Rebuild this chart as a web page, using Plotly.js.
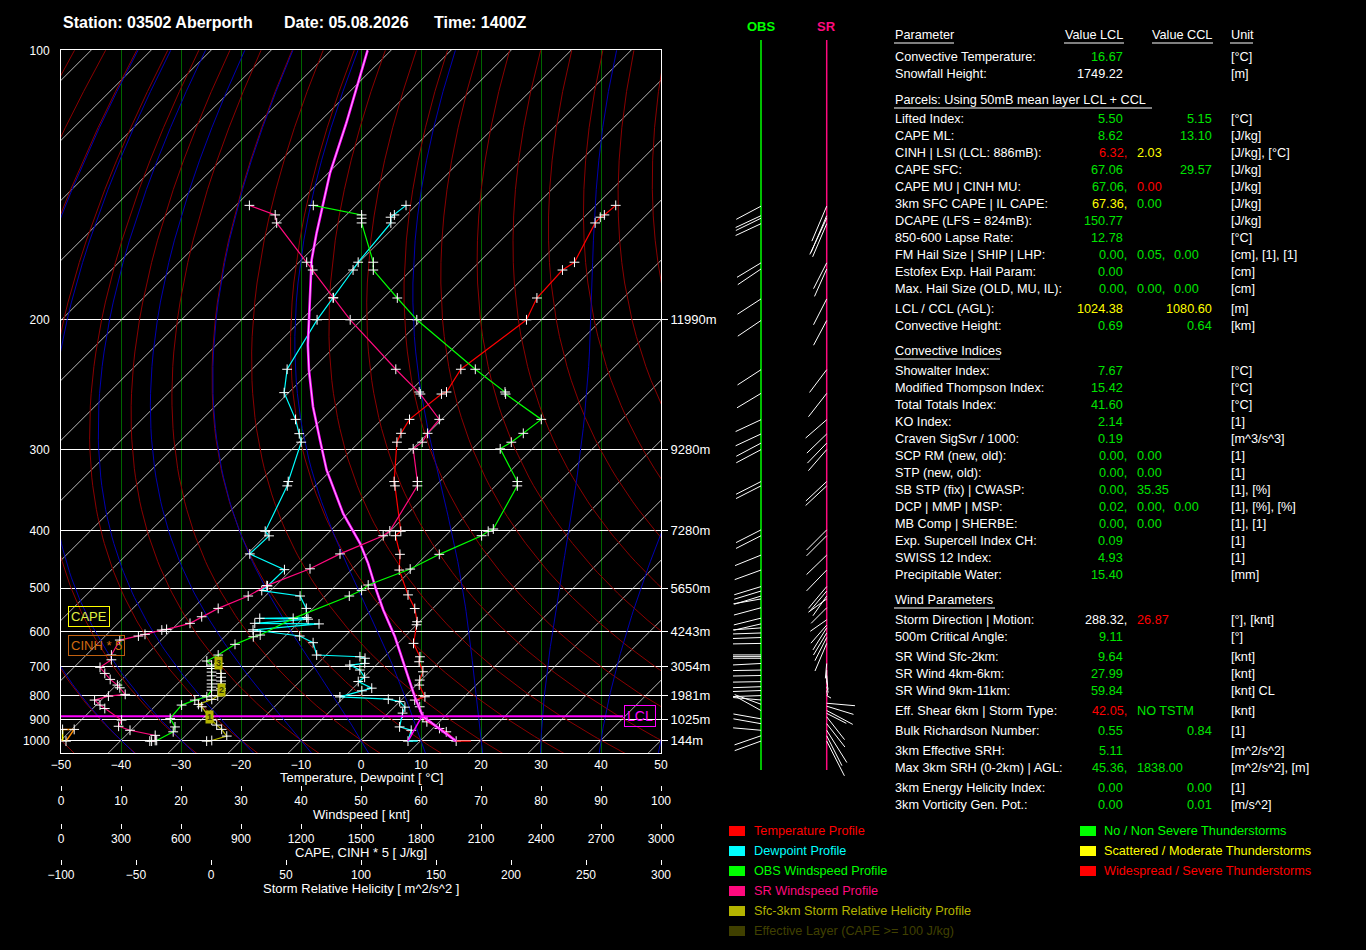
<!DOCTYPE html>
<html><head><meta charset="utf-8">
<script src="https://cdn.plot.ly/plotly-3.0.1.min.js"></script>
<style>html,body{margin:0;padding:0;background:#000;}#chart{width:1366px;height:950px;}</style>
</head><body><div id="chart"></div>
<script>
// ================= DATA =================
const titleParts = ["Station: 03502 Aberporth", "Date: 05.08.2026", "Time: 1400Z"];
const pressureTicks = [100, 200, 300, 400, 500, 600, 700, 800, 900, 1000];
const heightLabels = ["11990m", "9280m", "7280m", "5650m", "4243m", "3054m", "1981m", "1025m", "144m"]; // for 200..1000 hPa
const tempTicks = [-50, -40, -30, -20, -10, 0, 10, 20, 30, 40, 50];
const windTicks = [0, 10, 20, 30, 40, 50, 60, 70, 80, 90, 100];
const capeTicks = [0, 300, 600, 900, 1200, 1500, 1800, 2100, 2400, 2700, 3000];
const srhTicks = [-100, -50, 0, 50, 100, 150, 200, 250, 300];

// Temperature profile [hPa], [°C]
const tempP = [145.9,149.6,150.5,152.8,169.9,173.6,187.8,200,231.9,248.9,250.5,271.7,284.4,292.9,335.1,340.2,401.1,407.8,437.7,465.3,514,543.7,574.7,582.1,630.9,669.4,684.6,716.6,744.6,762.2,805.6,818.5,845.4,888,910.5,941.2,957.5,1004.3];
const tempC = [-46.7,-47.0,-47.3,-47.2,-44.1,-44.8,-44.4,-42.5,-45.2,-43.8,-44.3,-45.4,-44.5,-43.7,-37.6,-36.75,-28.2,-28.35,-24.5,-22.0,-16.4,-13.0,-10.4,-10.0,-7.4,-4.1,-3.4,-1.1,-0.25,0.5,3.4,2.25,4.2,6.4,7.9,11.1,12.8,16.0];
const tempSfcMax = 18.45; // surface tail

// Dewpoint profile
const dewP = [145.9,149.6,150.5,152.8,169.9,173.6,187.7,200,231.9,249.4,271.7,284.7,292.9,335.1,340.2,401.1,408,437,464.6,495.7,505,516.4,543.4,564.8,566.5,568.5,578.6,580,595,611,629,664.3,669.4,674,689.7,695,710.9,734.9,749.7,773.3,783.2,806,815,824.4,847,872,934,950,1004.3];
const dewC = [-81.65,-82.0,-82.25,-81.25,-80.15,-79.7,-78.4,-77.4,-74.15,-70.75,-64.4,-61.4,-59.65,-55.25,-54.7,-50.8,-49.4,-49.6,-41.2,-41.3,-41.5,-34.2,-31.1,-29.5,-37.2,-29.0,-37.2,-26.4,-36.4,-27.6,-24.25,-21.6,-14.1,-13.0,-12.2,-14.4,-11.9,-9.9,-10.25,-6.9,-8.1,-10.75,-2.3,0.0,1.8,2.4,4.2,6.7,7.97];
const dewSfcMax = 9.6;

// Lifted parcel (surface -> LCL -> moist ascent)
const parcelP = [1004.3,886,805.6,768.3,669.4,613,547.1,504,453.3,419.6,375.5,341,321.8,290.7,260.8,232.4,215.4,168.8,157.1,134.3,118.7,100];
const parcelC = [16.0,6.3,1.7,-0.5,-7.2,-11.6,-18.0,-22.5,-28.3,-33.0,-40.8,-46.9,-50.8,-56.9,-63.6,-70.4,-74.75,-88.3,-91.9,-99.7,-105.3,-113.9];
const mixP = [1004.3, 886];
const mixC = [7.97, 6.15];
const lclP = 886;

// OBS windspeed profile [kt]
const obsP = [145.9,149.6,150.9,152.8,169.9,173.6,187.8,200,231.9,248.9,250.5,271.7,284.4,292.9,299.5,335.1,340.2,397.7,401.1,407.8,437.7,463.5,493.9,504.5,516.4,566.5,608.4,613,633.6,664.3,682.4,695,706,717.6,730,744.6,758,769.4,780.6,805.6,818.5,838.5,895.1,934,957.5,1000.8,1004.3];
const obsKt = [42.05,50.1,50.1,50.1,52.05,52.05,56.05,59.3,69.05,74.0,74.1,80.05,77.05,75.05,73.2,76.05,76.05,72.05,71.2,70.1,63.05,58.2,51.2,50.1,48.05,38.7,33.2,32.05,29.0,26.2,24.3,25.1,25.1,25.1,25.1,25.1,25.1,25.1,25.1,24.3,22.3,20.1,18.2,19.0,18.7,15.95,14.8];

// Storm-relative windspeed profile [kt]
const srP = [145.9,149.6,152.8,169.9,173.6,187.7,200,231.9,248.9,250.5,271.7,284.4,292.9,299.5,335.1,340.2,400.6,407.8,437,463,495,516.4,543.4,562.7,578.6,593.7,595.4,606.6,611,621.8,664.3,678.6,702.3,722,742.3,762.2,772,796.4,803,818.5,838.5,852.6,902.7,931,950,975,1001,1004.3];
const srKt = [31.4,35.7,35.95,40.95,41.95,45.4,48.2,55.8,59.7,59.9,63.05,61.1,60.2,58.7,59.4,59.4,54.8,53.7,46.5,41.5,34.3,31.2,26.2,23.45,21.5,17.6,16.8,14.0,12.9,9.8,8.4,8.4,6.5,7.3,8.2,9.4,9.8,10.7,7.9,5.6,6.5,7.3,10.1,9.6,11.5,15.7,15.7,15.1];

// Sfc-3km storm relative helicity profile [m^2/s^2]
const srhP = [1004.3,1001,978.6,945.7,925.5,902.7,888,845.4,835.7,815.8,802.7,780.6,775,758,748,735,722,689.6];
const srhVal = [-2.9,0.5,10.5,7.1,3.8,0.5,-1.3,-6.2,-8.4,0.5,4.5,6.7,6.7,6.7,6.7,6.7,6.7,5.3];
const srhKmP = [888, 780.6, 689.6];
const srhKmVal = [-1.3, 6.7, 5.3];
const srhKmLabel = ["1", "2", "3"];

// CAPE and CINH*5 profiles [J/kg]
const capeP = [1004.3, 946];
const capeVal = [8, 8];
const cinhP = [946, 946, 1004.3];
const cinh5Val = [8, 66, 25];

// Wind sticks: observed wind direction (deg, from) per level
const obsStickP = [146.2,149.9,150.9,153.1,170.2,173.1,188.3,200.4,232.2,250,272,285,293.8,300.3,335.1,340.2,399,407.8,439,465.3,497,506,516.5,522.6,542,566,580,590,603,615,631,664,669,674,690,711,729,750,768,782,801,818,835,861,897,919,950,977,1004];
const obsStickDir = [242,245,244,245,239,236,237,236,237,239,245,245,242,242,243,243,243,243,248,250,253,253,253,260,255,256,257,266,268,268,269,270,270,270,267,269,269,269,268,268,268,275,290,299,280,280,275,251,250];
// Storm-relative sticks: direction (deg, from) and drawn length
const srStickP = [146.2,149.9,150.9,153.1,170.2,173.1,188.3,200.4,232.2,250,272,285,293.8,300.3,335.1,340.2,399,407.8,439,465.3,497,506,516.5,522.6,542,570,583,590,603,615,631,690,711,729,750,768,782,801,831,843,861,873,888,919,950,977,1004];
const srStickDir = [203,203,205,203,207,204,207,208,217,218,229,226,224,221,227,227,225,225,226,224,220,220,215,234,225,235,221,212,211,207,203,185,180,175,170,165,170,120,95,107,118,117,142,142,148,153,153];
const srStickLen = [38,40,40,36,29,30,29,28,28.5,29.6,27.9,27.6,27.8,27.9,28.5,28.8,28.5,28.5,28,29,28.4,27,24,22.6,22,20,24,26,25.7,26,30,15,12,10,8,6,5,5,28.4,28,29.5,22,29,29.6,38,33.5,39];

// Parameter table
const paramNames = ["Convective Temperature:","Snowfall Height:","Lifted Index:","CAPE ML:","CINH | LSI (LCL: 886mB):","CAPE SFC:","CAPE MU | CINH MU:","3km SFC CAPE | IL CAPE:","DCAPE (LFS = 824mB):","850-600 Lapse Rate:","FM Hail Size | SHIP | LHP:","Estofex Exp. Hail Param:","Max. Hail Size (OLD, MU, IL):","LCL / CCL (AGL):","Convective Height:","Showalter Index:","Modified Thompson Index:","Total Totals Index:","KO Index:","Craven SigSvr / 1000:","SCP RM (new, old):","STP (new, old):","SB STP (fix) | CWASP:","DCP | MMP | MSP:","MB Comp | SHERBE:","Exp. Supercell Index CH:","SWISS 12 Index:","Precipitable Water:","Storm Direction | Motion:","500m Critical Angle:","SR Wind Sfc-2km:","SR Wind 4km-6km:","SR Wind 9km-11km:","Eff. Shear 6km | Storm Type:","Bulk Richardson Number:","3km Effective SRH:","Max 3km SRH (0-2km) | AGL:","3km Energy Helicity Index:","3km Vorticity Gen. Pot.:"];
const paramValA = ["16.67","1749.22","5.50","8.62","6.32,","67.06","67.06,","67.36,","150.77","12.78","0.00,","0.00","0.00,","1024.38","0.69","7.67","15.42","41.60","2.14","0.19","0.00,","0.00,","0.00,","0.02,","0.00,","0.09","4.93","15.40","288.32,","9.11","9.64","27.99","59.84","42.05,","0.55","5.11","45.36,","0.00","0.00"];
const paramColA = ["g","w","g","g","r","g","g","y","g","g","g","g","g","y","g","g","g","g","g","g","g","g","g","g","g","g","g","g","w","g","g","g","g","r","g","g","g","g","g"];
const paramValB = ["","","","","2.03","","0.00","0.00","","","0.05,","","0.00,","","","","","","","","0.00","0.00","35.35","0.00,","0.00","","","","26.87","","","","","NO TSTM","","","1838.00","",""];
const paramColB = ["","","","","y","","r","g","","","g","","g","","","","","","","","g","g","g","g","g","","","","r","","","","","g","","","g","",""];
const paramValC = ["","","","","","","","","","","0.00","","0.00","","","","","","","","","","","0.00","","","","","","","","","","","","","","",""];
const paramValCCL = ["","","5.15","13.10","","29.57","","","","","","","","1080.60","0.64","","","","","","","","","","","","","","","","","","","","0.84","","","0.00","0.01"];
const paramColCCL = ["","","g","g","","g","","","","","","","","y","g","","","","","","","","","","","","","","","","","","","","g","","","g","g"];
const paramUnits = ["[°C]","[m]","[°C]","[J/kg]","[J/kg], [°C]","[J/kg]","[J/kg]","[J/kg]","[J/kg]","[°C]","[cm], [1], [1]","[cm]","[cm]","[m]","[km]","[°C]","[°C]","[°C]","[1]","[m^3/s^3]","[1]","[1]","[1], [%]","[1], [%], [%]","[1], [1]","[1]","[1]","[mm]","[°], [knt]","[°]","[knt]","[knt]","[knt] CL","[knt]","[1]","[m^2/s^2]","[m^2/s^2], [m]","[1]","[m/s^2]"];
const sectionTitles = ["Parcels: Using 50mB mean layer LCL + CCL", "Convective Indices", "Wind Parameters"];

// Legend
const legendLeftText = ["Temperature Profile","Dewpoint Profile","OBS Windspeed Profile","SR Windspeed Profile","Sfc-3km Storm Relative Helicity Profile","Effective Layer (CAPE >= 100 J/kg)"];
const legendLeftColor = ["#FF0000","#00FFFF","#00FF00","#FF0A7E","#B4B400","#404000"];
const legendRightText = ["No / Non Severe Thunderstorms","Scattered / Moderate Thunderstorms","Widespread / Severe Thunderstorms"];
const legendRightColor = ["#00FF00","#FFFF00","#FF0000"];

// ================= LAYOUT / SCALES =================
const W = 1366, H = 950;
const FONT = "Liberation Sans, Arial, sans-serif";
const K = 0.355;
const A100 = Math.pow(100, -K), A1000 = Math.pow(1000, -K);
function Yp(p) { return (A100 - Math.pow(p, -K)) / (A100 - A1000); }   // 0 at 100 hPa, 1 at 1000 hPa
const PX_TOP = 50.3, PX_SPAN = 690;
function ypx(p) { return PX_TOP + PX_SPAN * Yp(p); }
const SKEW = PX_SPAN / 6;   // 45 degree isotherms: 6 px per degree
function skewX(T, p) { return T + SKEW * (1 - Yp(p)); }
const PLOT_L = 61, PLOT_R = 661, PLOT_T = 50, PLOT_B = 753;
const YBOT = (PLOT_B - PX_TOP) / PX_SPAN, YTOP = (PLOT_T - PX_TOP) / PX_SPAN;
const px = v => v / W, py = v => 1 - v / H;
const colorMap = { g: "#00E400", w: "#FFFFFF", r: "#FF0000", y: "#FFFF00" };

const traces = [];
const cross = { symbol: "cross-thin", size: 7, line: { color: "#FFFFFF", width: 1 } };

// isotherms
(function () {
  const x = [], y = [];
  for (let T = -170; T <= 50; T += 10) {
    x.push(T + SKEW * (1 - YBOT), T + SKEW * (1 - YTOP), null);
    y.push(YBOT, YTOP, null);
  }
  traces.push({ x, y, mode: "lines", line: { color: "#E8E8E8", width: 0.8 }, hoverinfo: "skip" });
})();
const pGrid = [];
for (let p = 100; p <= 1080; p += 10) pGrid.push(p);
// dry adiabats
(function () {
  const x = [], y = [];
  for (let th = 203.15; th <= 433.15; th += 10) {
    pGrid.forEach(p => { x.push(th * Math.pow(p / 1000, 0.2857) - 273.15 + SKEW * (1 - Yp(p))); y.push(Yp(p)); });
    x.push(null); y.push(null);
  }
  traces.push({ x, y, mode: "lines", line: { color: "#8A0000", width: 1 }, hoverinfo: "skip" });
})();
// moist adiabats (pseudo-adiabatic integration)
(function () {
  function dTdp(T, p) {
    const es = 6.112 * Math.exp(17.67 * (T - 273.15) / (T - 29.65));
    const rs = 0.622 * es / (p - es);
    return (287.04 * T + 2.501e6 * rs) / (p * (1005.7 + 2.501e6 * 2.501e6 * rs * 0.622 / (287.04 * T * T)));
  }
  function integ(T0, p0, p1, h) {
    const res = {}; let T = T0, p = p0;
    res[Math.round(p)] = T;
    const n = Math.round((p1 - p0) / h);
    for (let i = 0; i < n; i++) {
      const k1 = dTdp(T, p), k2 = dTdp(T + h * k1 / 2, p + h / 2), k3 = dTdp(T + h * k2 / 2, p + h / 2), k4 = dTdp(T + h * k3, p + h);
      T += h * (k1 + 2 * k2 + 2 * k3 + k4) / 6; p += h;
      res[Math.round(p)] = T;
    }
    return res;
  }
  const x = [], y = [];
  for (let tw = -40; tw <= 50; tw += 10) {
    const up = integ(tw + 273.15, 1000, 100, -2), dn = integ(tw + 273.15, 1000, 1080, 2);
    pGrid.forEach(p => {
      const T = p <= 1000 ? up[p] : dn[p];
      x.push(T - 273.15 + SKEW * (1 - Yp(p))); y.push(Yp(p));
    });
    x.push(null); y.push(null);
  }
  traces.push({ x, y, mode: "lines", line: { color: "#0000B0", width: 1 }, hoverinfo: "skip" });
})();

// CAPE / CINH
traces.push({ x: capeVal, y: capeP.map(Yp), xaxis: "x3", mode: "lines", line: { color: "#FFFF00", width: 1.5 }, hoverinfo: "skip" });
traces.push({ x: cinh5Val, y: cinhP.map(Yp), xaxis: "x3", mode: "lines+markers", line: { color: "#FF8C00", width: 1.5 }, marker: cross, hoverinfo: "skip" });
// SRH
traces.push({ x: srhVal, y: srhP.map(Yp), xaxis: "x4", mode: "lines+markers", line: { color: "#B4B400", width: 1.2 }, marker: cross, hoverinfo: "skip" });
// windspeed profiles
traces.push({ x: obsKt, y: obsP.map(Yp), xaxis: "x2", mode: "lines+markers", line: { color: "#00FF00", width: 1.2 }, marker: cross, hoverinfo: "skip" });
traces.push({ x: srKt, y: srP.map(Yp), xaxis: "x2", mode: "lines+markers", line: { color: "#FF0A7E", width: 1.2 }, marker: cross, hoverinfo: "skip" });
// dewpoint & temperature
traces.push({ x: dewC.map((t, i) => skewX(t, dewP[i])), y: dewP.map(Yp), mode: "lines+markers", line: { color: "#00FFFF", width: 1.2 }, marker: cross, hoverinfo: "skip" });
traces.push({ x: [skewX(dewC[dewC.length - 1], 1004.3), skewX(dewSfcMax, 1004.3)], y: [Yp(1004.3), Yp(1004.3)], mode: "lines", line: { color: "#00FFFF", width: 1.2 }, hoverinfo: "skip" });
traces.push({ x: tempC.map((t, i) => skewX(t, tempP[i])), y: tempP.map(Yp), mode: "lines+markers", line: { color: "#FF0000", width: 1.2 }, marker: cross, hoverinfo: "skip" });
traces.push({ x: [skewX(tempC[tempC.length - 1], 1004.3), skewX(tempSfcMax, 1004.3)], y: [Yp(1004.3), Yp(1004.3)], mode: "lines", line: { color: "#FF0000", width: 1.2 }, hoverinfo: "skip" });
// parcel
traces.push({ x: mixC.map((t, i) => skewX(t, mixP[i])), y: mixP.map(Yp), mode: "lines", line: { color: "#FF00FF", width: 1.5 }, hoverinfo: "skip" });
traces.push({ x: parcelC.map((t, i) => skewX(t, parcelP[i])), y: parcelP.map(Yp), mode: "lines", line: { color: "#FF00FF", width: 2.6 }, hoverinfo: "skip" });
traces.push({ x: parcelC.map((t, i) => skewX(t, parcelP[i])), y: parcelP.map(Yp), mode: "lines", line: { color: "#FFC8FF", width: 0.9 }, hoverinfo: "skip" });
// LCL line (on right-hand height axis)
traces.push({ x: [-50, 43.7], y: [Yp(lclP), Yp(lclP)], yaxis: "y2", mode: "lines", line: { color: "#FF00FF", width: 2 }, hoverinfo: "skip" });

// stick columns
const OBS_X = 761, SR_X = 826.7;
traces.push({ x: [OBS_X, OBS_X], y: [40, 770], xaxis: "x5", yaxis: "y3", mode: "lines", line: { color: "#00FF00", width: 1.5 }, hoverinfo: "skip" });
traces.push({ x: [SR_X, SR_X], y: [40, 770], xaxis: "x5", yaxis: "y3", mode: "lines", line: { color: "#FF0A7E", width: 1.5 }, hoverinfo: "skip" });
(function () {
  const ox = [], oy = [];
  obsStickP.forEach((p, i) => {
    const r = obsStickDir[i] * Math.PI / 180, y0 = ypx(p), L = 28;
    ox.push(OBS_X, OBS_X + L * Math.sin(r), null); oy.push(y0, y0 - L * Math.cos(r), null);
  });
  traces.push({ x: ox, y: oy, xaxis: "x5", yaxis: "y3", mode: "lines", line: { color: "#FFFFFF", width: 1 }, hoverinfo: "skip" });
  const sx = [], sy = [];
  srStickP.forEach((p, i) => {
    const r = srStickDir[i] * Math.PI / 180, y0 = ypx(p), L = srStickLen[i];
    sx.push(SR_X, SR_X + L * Math.sin(r), null); sy.push(y0, y0 - L * Math.cos(r), null);
  });
  traces.push({ x: sx, y: sy, xaxis: "x5", yaxis: "y3", mode: "lines", line: { color: "#FFFFFF", width: 1 }, hoverinfo: "skip" });
})();

// ================= ANNOTATIONS & SHAPES =================
const ann = [], shapes = [];
function txt(x, y, text, color, size, anchor, extra) {
  ann.push(Object.assign({ xref: "paper", yref: "paper", x: px(x), y: py(y), text, showarrow: false, xanchor: anchor || "left", yanchor: "middle", borderpad: 0, font: { family: FONT, size: size || 12.7, color: color || "#FFFFFF" } }, extra || {}));
}
// title
[62, 283, 433].forEach((x, i) => txt(x, 22, "<b>" + titleParts[i] + "</b>", "#FFFFFF", 16));
txt(OBS_X, 27, "<b>OBS</b>", "#00FF00", 13, "center");
txt(SR_X, 27, "<b>SR</b>", "#FF0A7E", 13, "center");
// axis titles
txt(361, 777, "Temperature, Dewpoint [ °C]", "#FFFFFF", 13, "center");
txt(361, 814, "Windspeed [ knt]", "#FFFFFF", 13, "center");
txt(361, 852, "CAPE, CINH * 5 [ J/kg]", "#FFFFFF", 13, "center");
txt(361, 888, "Storm Relative Helicity [ m^2/s^2 ]", "#FFFFFF", 13, "center");
// chart labels
ann.push({ xref: "paper", yref: "paper", x: px(88.5), y: py(616), text: "CAPE", showarrow: false, xanchor: "center", yanchor: "middle", bordercolor: "#FFFF00", borderwidth: 1, borderpad: 2, font: { family: FONT, size: 13, color: "#E0F040" } });
ann.push({ xref: "paper", yref: "paper", x: px(96), y: py(645.5), text: "CINH * 5", showarrow: false, xanchor: "center", yanchor: "middle", bordercolor: "#C06010", borderwidth: 1, borderpad: 2, font: { family: FONT, size: 13, color: "#D06A10" } });
ann.push({ xref: "x", yref: "y", x: (640 - 361) / 6, y: Yp(lclP), text: "LCL", showarrow: false, xanchor: "center", yanchor: "middle", bordercolor: "#FF00FF", borderwidth: 1, borderpad: 2, font: { family: FONT, size: 14, color: "#FF00FF" } });
srhKmP.forEach((p, i) => ann.push({ xref: "x4", yref: "y", x: srhKmVal[i], y: Yp(p), text: "<b>" + srhKmLabel[i] + "</b>", showarrow: false, xanchor: "center", yanchor: "middle", bgcolor: "#B4B400", borderpad: 1, font: { family: FONT, size: 9, color: "#3A3A00" } }));

// table
const rowY = [57,74,119,136,153,170,187,204,221,238,255,272,289,309,326,371,388,405,422,439,456,473,490,507,524,541,558,575,620,637,657,674,691,711,731,751,768,788,805];
const sectionY = [100, 351, 600];
const sectionW = [258, 106, 101];
const COL_LABEL = 894, COL_A = 1124, COL_B = 1136, COL_C = 1173, COL_CCL = 1213, COL_UNIT = 1230;
txt(COL_LABEL, 35, "Parameter"); txt(COL_A, 35, "Value LCL", null, null, "right"); txt(COL_CCL, 35, "Value CCL", null, null, "right"); txt(COL_UNIT, 35, "Unit");
[[COL_LABEL, COL_LABEL + 60], [COL_A - 60, COL_A], [COL_CCL - 61, COL_CCL], [COL_UNIT, COL_UNIT + 23]].forEach(s => shapes.push({ type: "line", xref: "paper", yref: "paper", x0: px(s[0]), x1: px(s[1]), y0: py(43), y1: py(43), line: { color: "#FFFFFF", width: 1 } }));
sectionTitles.forEach((t, i) => {
  txt(COL_LABEL, sectionY[i], t);
  shapes.push({ type: "line", xref: "paper", yref: "paper", x0: px(COL_LABEL), x1: px(COL_LABEL + sectionW[i]), y0: py(sectionY[i] + 8), y1: py(sectionY[i] + 8), line: { color: "#FFFFFF", width: 1 } });
});
paramNames.forEach((name, i) => {
  const y = rowY[i];
  txt(COL_LABEL, y, name);
  const a = paramValA[i];
  if (a) txt(a.endsWith(",") ? COL_A + 3.5 : COL_A, y, a, colorMap[paramColA[i]], null, "right");
  if (paramValB[i]) txt(COL_B, y, paramValB[i], colorMap[paramColB[i]]);
  if (paramValC[i]) txt(COL_C, y, paramValC[i], colorMap.g);
  if (paramValCCL[i]) txt(COL_CCL, y, paramValCCL[i], colorMap[paramColCCL[i]], null, "right");
  txt(COL_UNIT, y, paramUnits[i]);
});
// legend
legendLeftText.forEach((t, i) => {
  const y = 831 + 20 * i;
  shapes.push({ type: "rect", xref: "paper", yref: "paper", x0: px(729), x1: px(745), y0: py(y - 5), y1: py(y + 5), fillcolor: legendLeftColor[i], line: { width: 0 } });
  txt(753, y, t, legendLeftColor[i]);
});
legendRightText.forEach((t, i) => {
  const y = 831 + 20 * i;
  shapes.push({ type: "rect", xref: "paper", yref: "paper", x0: px(1080), x1: px(1096), y0: py(y - 5), y1: py(y + 5), fillcolor: legendRightColor[i], line: { width: 0 } });
  txt(1103, y, t, legendRightColor[i]);
});

const tickFont = { family: FONT, size: 12, color: "#FFFFFF" };
const bottomAxis = (pos, range, vals) => ({ overlaying: "x", anchor: "free", position: pos, side: "bottom", range, tickvals: vals, ticks: "outside", ticklen: 5, tickcolor: "#FFFFFF", tickwidth: 1, showgrid: false, zeroline: false, showline: false, tickfont: tickFont, fixedrange: true });

const layout = {
  width: W, height: H, margin: { l: 0, r: 0, t: 0, b: 0, pad: 0 },
  paper_bgcolor: "#000000", plot_bgcolor: "#000000", showlegend: false, hovermode: false,
  xaxis: { domain: [px(PLOT_L), PLOT_R / W], range: [-50, 50], tickvals: tempTicks, ticks: "", showgrid: true, gridcolor: "#006400", gridwidth: 1, zeroline: false, showline: true, linecolor: "#FFFFFF", linewidth: 1, mirror: true, tickfont: tickFont, anchor: "y", fixedrange: true, ticklabelstandoff: 1 },
  yaxis: { domain: [py(PLOT_B), py(PLOT_T)], range: [YBOT, YTOP], tickvals: pressureTicks.map(Yp), ticktext: pressureTicks.map(String), ticks: "", showgrid: true, gridcolor: "#FFFFFF", gridwidth: 1, zeroline: false, showline: true, linecolor: "#FFFFFF", mirror: true, tickfont: tickFont, anchor: "x", fixedrange: true, ticklabelstandoff: 8 },
  yaxis2: { overlaying: "y", side: "right", anchor: "x", range: [YBOT, YTOP], tickvals: pressureTicks.slice(1).map(Yp), ticktext: heightLabels, ticks: "outside", ticklen: 6, tickcolor: "#FFFFFF", tickwidth: 1, showgrid: false, zeroline: false, showline: false, tickfont: { family: FONT, size: 13, color: "#FFFFFF" }, fixedrange: true },
  xaxis2: bottomAxis(py(785), [0, 100], windTicks),
  xaxis3: bottomAxis(py(823), [0, 3000], capeTicks),
  xaxis4: bottomAxis(py(859), [-100, 300], srhTicks),
  xaxis5: { domain: [px(700), px(880)], range: [700, 880], visible: false, anchor: "y3", fixedrange: true },
  yaxis3: { domain: [0, 1], range: [H, 0], visible: false, anchor: "x5", fixedrange: true },
  annotations: ann, shapes: shapes
};
Plotly.newPlot("chart", traces, layout, { staticPlot: true, displayModeBar: false });
</script></body></html>
